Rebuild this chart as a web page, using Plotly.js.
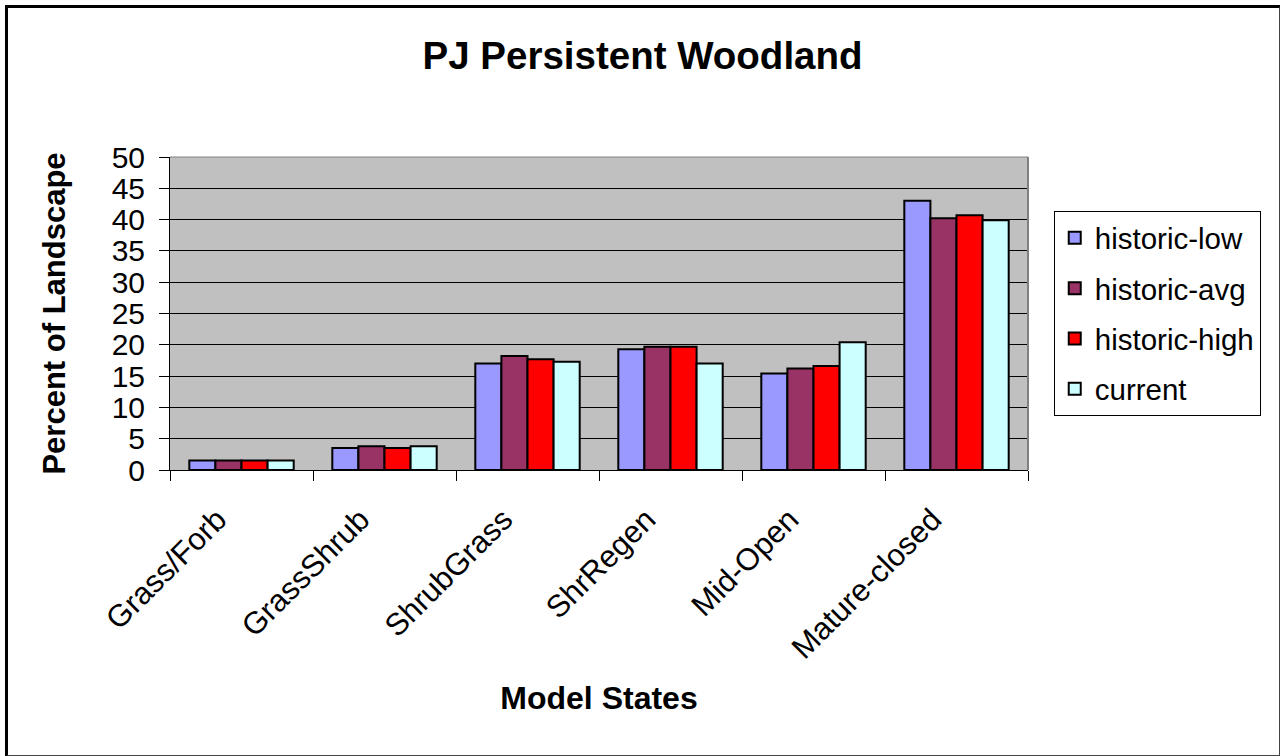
<!DOCTYPE html>
<html>
<head>
<meta charset="utf-8">
<script src="https://cdn.plot.ly/plotly-3.0.1.min.js"></script>
<style>
  html, body { margin: 0; padding: 0; background: #ffffff; }
  #wrap { position: relative; width: 1280px; height: 756px; }
  #chart { width: 1280px; height: 756px; }
  #frame { position: absolute; left: 5px; top: 5px; width: 1271px; height: 747px;
           border-left: 3px solid #000; border-top: 3px solid #000;
           border-right: 2px solid #444; border-bottom: 2px solid #444; pointer-events: none; }
</style>
</head>
<body>
<div id="wrap">
  <div id="chart"></div>
  <div id="frame"></div>
</div>
<script>
const categories = ["Grass/Forb", "GrassShrub", "ShrubGrass", "ShrRegen", "Mid-Open", "Mature-closed"];
const historicLow  = [1.5, 3.5, 17.0, 19.3, 15.4, 43.0];
const historicAvg  = [1.5, 3.8, 18.2, 19.7, 16.2, 40.2];
const historicHigh = [1.5, 3.5, 17.7, 19.7, 16.6, 40.7];
const current      = [1.5, 3.8, 17.3, 17.0, 20.4, 39.9];
const seriesNames  = ["historic-low", "historic-avg", "historic-high", "current"];
const seriesColors = ["#9999FF", "#993366", "#FF0000", "#CCFFFF"];
const seriesValues = [historicLow, historicAvg, historicHigh, current];

const FONT = "Liberation Sans, Arial, sans-serif";

const traces = seriesNames.map((name, i) => ({
  type: "bar",
  name: name,
  x: categories,
  y: seriesValues[i],
  legendgroup: "g" + i,
  marker: { color: seriesColors[i], line: { color: "#000000", width: 2 } }
}));

const layout = {
  width: 1280,
  height: 756,
  paper_bgcolor: "#ffffff",
  plot_bgcolor: "#C0C0C0",
  font: { family: FONT, color: "#000000" },
  margin: { l: 170, r: 252, t: 157, b: 286 },
  barmode: "group",
  bargap: 0.27,
  bargroupgap: 0,
  title: {
    text: "<b>PJ Persistent Woodland</b>",
    font: { family: FONT, size: 38.5, color: "#000000" },
    x: 0.502, xref: "container", xanchor: "center",
    y: 0.926, yref: "container", yanchor: "middle"
  },
  xaxis: {
    type: "category",
    tickangle: -45,
    tickfont: { family: FONT, size: 31, color: "#000000" },
    ticks: "outside",
    tickson: "boundaries",
    ticklen: 10,
    tickcolor: "#000000",
    ticklabelstandoff: 18,
    ticklabelshift: -24,
    showline: true,
    linecolor: "#000000",
    linewidth: 1,
    mirror: false,
    showgrid: false,
    automargin: false,
    title: {
      text: "<b>Model States</b>",
      font: { family: FONT, size: 32, color: "#000000" },
      standoff: 22
    }
  },
  yaxis: {
    range: [0, 50],
    dtick: 5,
    tick0: 0,
    tickfont: { family: FONT, size: 30, color: "#000000" },
    ticks: "outside",
    ticklen: 10,
    tickcolor: "#000000",
    ticklabelstandoff: 8,
    showline: true,
    linecolor: "#000000",
    linewidth: 1,
    showgrid: true,
    gridcolor: "#000000",
    gridwidth: 1,
    zeroline: true,
    zerolinecolor: "#000000",
    automargin: false,
    title: {
      text: "<b>Percent of Landscape</b>",
      font: { family: FONT, size: 31, color: "#000000" },
      standoff: 36
    }
  },
  legend: {
    x: 1.03, xref: "paper", xanchor: "left",
    y: 0.827, yref: "paper", yanchor: "top",
    bgcolor: "#ffffff",
    bordercolor: "#000000",
    borderwidth: 1,
    font: { family: FONT, size: 29.5, color: "#000000" },
    traceorder: "grouped",
    tracegroupgap: 9
  },
  shapes: [
    { type: "line", xref: "paper", yref: "paper", x0: 0, x1: 1, y0: 1, y1: 1,
      line: { color: "#808080", width: 1 }, layer: "above" },
    { type: "line", xref: "paper", yref: "paper", x0: 1, x1: 1, y0: 0, y1: 1,
      line: { color: "#808080", width: 2 }, layer: "above" }
  ]
};

Plotly.newPlot("chart", traces, layout, { staticPlot: true, displayModeBar: false });
</script>
</body>
</html>
